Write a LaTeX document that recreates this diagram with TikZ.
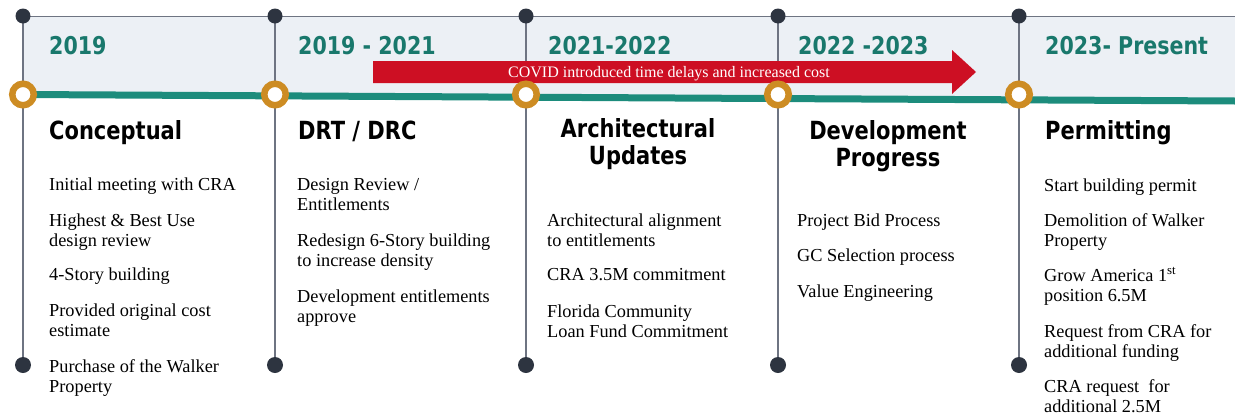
\documentclass[tikz,border=0pt]{standalone}
\usepackage{fontspec}
\setmainfont{Liberation Serif}
\newfontfamily\hdfont[FakeStretch=0.84]{DejaVu Sans Bold}
\definecolor{bandfill}{RGB}{236,240,245}
\definecolor{tealline}{RGB}{28,140,124}
\definecolor{yeartext}{RGB}{25,120,108}
\definecolor{ringorange}{RGB}{205,140,35}
\definecolor{dotdark}{RGB}{45,52,64}
\definecolor{stemgray}{RGB}{110,116,130}
\definecolor{covidred}{RGB}{205,15,35}
\begin{document}
\begin{tikzpicture}[x=1pt,y=-1pt,
  yearlbl/.style={anchor=base west, inner sep=0, text=yeartext,
    font=\hdfont\fontsize{24.5}{27}\selectfont},
  phase/.style={inner sep=0, align=center,
    font=\hdfont\fontsize{25}{27}\selectfont},
  items/.style={anchor=base west, inner sep=0, align=left,
    font=\fontsize{18.3}{20}\selectfont},
  topdot/.style={circle, fill=dotdark, minimum size=15pt, inner sep=0},
  enddot/.style={circle, fill=dotdark, minimum size=16pt, inner sep=0},
  ring/.style={circle, draw=ringorange, line width=6.5pt, fill=white,
    minimum size=21.5pt, inner sep=0},
  stem/.style={draw=stemgray, line width=1.3pt},
]
\useasboundingbox (0,0) rectangle (1235,413);

% milestone positions
\foreach \i/\x in {1/23,2/275,3/526,4/778,5/1019}{
  \coordinate (t\i) at (\x,16);
  \coordinate (r\i) at (\x,94.5);
  \coordinate (b\i) at (\x,365);
}
\coordinate (topend) at (1235,16);
\coordinate (tealend) at (1235,101);

% header band
\fill[bandfill] (t1) -- (topend) -- (tealend) -- (r1) -- cycle;
\draw[stemgray, line width=1pt] (t1) -- (topend);

% vertical stems
\foreach \i in {1,...,5}{ \draw[stem] (t\i) -- (b\i); }

% timeline bar
\draw[tealline, line width=7pt] (r1) -- (tealend);

% COVID arrow
\fill[covidred] (373,61) -- (952,61) -- (952,50) -- (976,72) -- (952,94)
  -- (952,83) -- (373,83) -- cycle;
\node[anchor=base, inner sep=0, text=white, font=\fontsize{16}{18}\selectfont]
  (covid) at (669,77) {COVID introduced time delays and increased cost};

% markers
\foreach \i in {1,...,5}{
  \node[ring] (ring\i) at (r\i) {};
  \node[topdot] (top\i) at (t\i) {};
  \node[enddot] (end\i) at (b\i) {};
}

% years
\node[yearlbl] (y1) at (49,54) {2019};
\node[yearlbl] (y2) at (298,54) {2019 - 2021};
\node[yearlbl] (y3) at (548,54) {2021-2022};
\node[yearlbl] (y4) at (798,54) {2022 -2023};
\node[yearlbl] (y5) at (1045,54) {2023- Present};

% phase titles (base = baseline of the last line)
\node[phase, anchor=base west] (h1) at (49,139) {Conceptual};
\node[phase, anchor=base west] (h2) at (298,139) {DRT / DRC};
\node[phase, anchor=base] (h3) at (638,164) {Architectural\\Updates};
\node[phase, anchor=base] (h4) at (888,166) {Development\\Progress};
\node[phase, anchor=base west] (h5) at (1045,139) {Permitting};

% activities (base = baseline of the last line)
\node[items] (a1) at (49,392) {Initial meeting with CRA\\[16pt]
  Highest \& Best Use\\design review\\[14pt]
  4-Story building\\[16pt]
  Provided original cost\\estimate\\[16pt]
  Purchase of the Walker\\Property};
\node[items] (a2) at (297,322) {Design Review /\\Entitlements\\[16pt]
  Redesign 6-Story building\\to increase density\\[16pt]
  Development entitlements\\approve};
\node[items] (a3) at (547,337) {Architectural alignment\\to entitlements\\[14pt]
  CRA 3.5M commitment\\[17pt]
  Florida Community\\Loan Fund Commitment};
\node[items] (a4) at (797,297) {Project Bid Process\\[15pt]
  GC Selection process\\[16pt]
  Value Engineering};
\node[items] (a5) at (1044,412) {Start building permit\\[15pt]
  Demolition of Walker\\Property\\[15pt]
  Grow America 1\textsuperscript{st}\\position 6.5M\\[16pt]
  Request from CRA for\\additional funding\\[15pt]
  CRA request \ for\\additional 2.5M};
\end{tikzpicture}
\end{document}
